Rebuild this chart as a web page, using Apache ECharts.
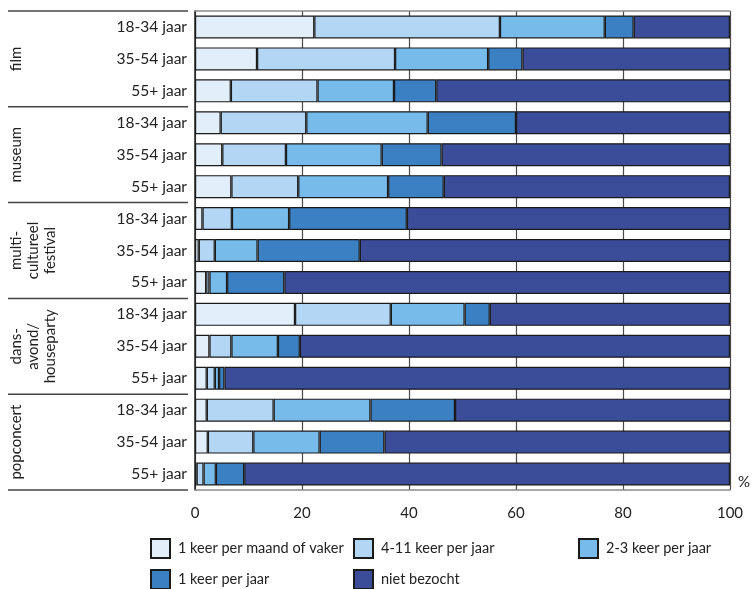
<!DOCTYPE html>
<html>
<head>
<meta charset="utf-8">
<script src="https://cdn.jsdelivr.net/npm/echarts@6/dist/echarts.min.js"></script>
<style>html,body{margin:0;padding:0;background:#fff}#c{width:753px;height:589px}</style>
</head>
<body>
<div id="c"></div>
<script>
const groups = ['film', 'museum', 'multi-\ncultureel\nfestival', 'dans-\navond/\nhouseparty', 'popconcert'];
const ages = ['18-34 jaar', '35-54 jaar', '55+ jaar'];
const seriesNames = ['1 keer per maand of vaker', '4-11 keer per jaar', '2-3 keer per jaar', '1 keer per jaar', 'niet bezocht'];
const maand   = [22.3, 11.6, 6.7, 4.8, 5.1, 6.8, 1.4, 0.7, 2.1, 18.7, 2.7, 2.2, 2.2, 2.4, 0.3];
const keer411 = [34.7, 25.8, 16.2, 16.0, 11.9, 12.5, 5.5, 3.0, 0.6, 17.9, 4.1, 1.5, 12.5, 8.5, 1.3];
const keer23  = [19.6, 17.4, 14.3, 22.7, 17.9, 16.8, 10.7, 8.0, 3.3, 13.8, 8.7, 0.8, 18.1, 12.4, 2.3];
const keer1   = [5.4, 6.4, 7.9, 16.5, 11.2, 10.4, 22.0, 19.1, 10.7, 4.7, 4.1, 1.0, 15.8, 12.1, 5.3];
const niet    = [18.0, 38.8, 54.9, 40.0, 53.9, 53.5, 60.4, 69.2, 83.3, 44.9, 80.4, 94.5, 51.4, 64.6, 90.8];
const xTicks = [0, 20, 40, 60, 80, 100];

const colors = ['#E2EEFA', '#B3D6F4', '#77BBEB', '#3A80C3', '#3B4D98'];
const values = [maand, keer411, keer23, keer1, niet];
const cats = [];
groups.forEach((g, gi) => ages.forEach(a => cats.push(gi + '|' + a)));

const FONT = 'Lato';
const chart = echarts.init(document.getElementById('c'), null, {renderer: 'canvas'});
const option = {
  animation: false,
  textStyle: {fontFamily: FONT},
  grid: {left: 195, right: 22, top: 11, bottom: 99, containLabel: false},
  xAxis: [{
    type: 'value', min: xTicks[0], max: xTicks[xTicks.length - 1], interval: 20,
    position: 'bottom',
    axisLine: {show: true, lineStyle: {color: '#8a8a8a', width: 1.5}},
    axisTick: {show: false},
    axisLabel: {margin: 16, fontSize: 15, color: '#222', fontFamily: FONT},
    splitLine: {show: true, lineStyle: {color: '#4a4a4a', width: 1.2}},
    name: '%', nameLocation: 'end', nameGap: 8,
    nameTextStyle: {fontSize: 15, color: '#222', fontFamily: FONT, verticalAlign: 'bottom'}
  }, {
    type: 'value', min: 0, max: 100, position: 'top',
    axisLine: {show: true, lineStyle: {color: '#8a8a8a', width: 1.5}},
    axisTick: {show: false}, axisLabel: {show: false}, splitLine: {show: false}
  }],
  yAxis: {
    type: 'category', data: cats, inverse: true,
    axisLine: {show: true, lineStyle: {color: '#222', width: 1.5}},
    axisTick: {show: false},
    axisLabel: {margin: 8, fontSize: 15.5, color: '#222', fontFamily: FONT, interval: 0,
      formatter: v => v.split('|')[1]}
  },
  legend: [0, 1, 2].map(col => ({
    orient: 'vertical', left: [150, 353, 578][col], top: 538, height: 70, padding: 0,
    icon: 'rect',
    itemWidth: 19, itemHeight: 19, itemGap: 10,
    textStyle: {fontSize: 14.5, color: '#222', fontFamily: FONT, padding: [2, 0, 0, 3]},
    data: seriesNames.filter((n, i) => i % 3 === col)
  })),
  series: seriesNames.map((n, i) => ({
    name: n, type: 'bar', stack: 'all', data: values[i],
    barCategoryGap: '28%',
    itemStyle: {color: colors[i], borderColor: '#1a1a1a', borderWidth: 1.2}
  }))
};
chart.setOption(option);

// group labels and separators, positioned from the category axis
const py = c => chart.convertToPixel({yAxisIndex: 0}, c);
const band = py(cats[1]) - py(cats[0]);
const graphics = [];
groups.forEach((g, gi) => {
  const top = py(cats[gi * 3]) - band / 2;
  const bottom = py(cats[gi * 3 + 2]) + band / 2;
  graphics.push({type: 'line', shape: {x1: 8, y1: top, x2: 188, y2: top},
    style: {stroke: '#444', lineWidth: 1.5}});
  if (gi === groups.length - 1) {
    graphics.push({type: 'line', shape: {x1: 8, y1: bottom, x2: 188, y2: bottom},
      style: {stroke: '#444', lineWidth: 1.5}});
  }
  graphics.push({type: 'text', x: 8, y: (top + bottom) / 2, rotation: Math.PI / 2,
    style: {text: g, font: '15px ' + FONT, fill: '#222', textAlign: 'center',
      verticalAlign: 'top', lineHeight: 17}});
});
chart.setOption({graphic: graphics});
</script>
</body>
</html>
